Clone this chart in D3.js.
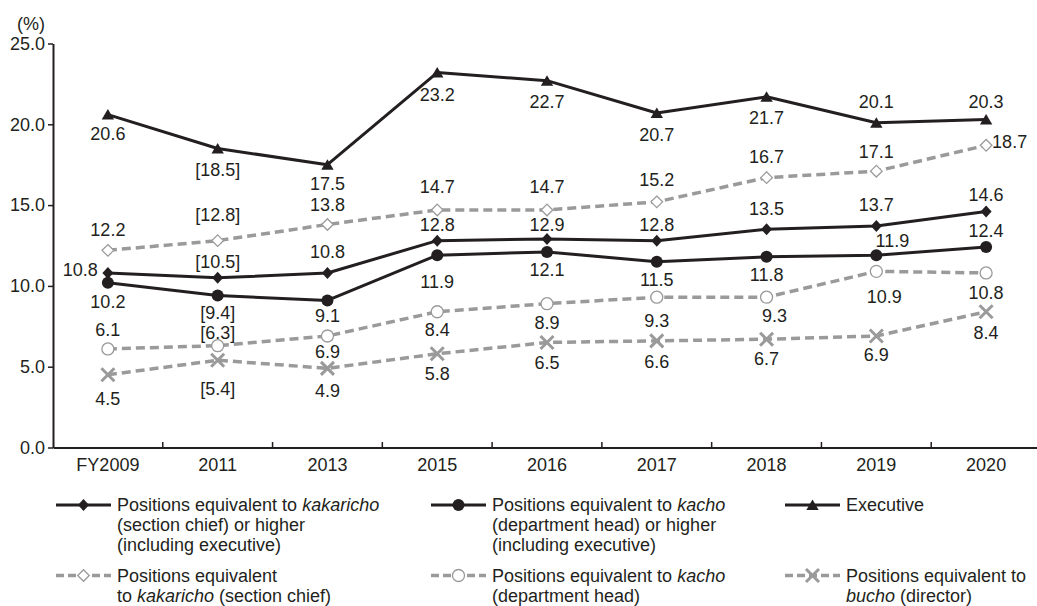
<!DOCTYPE html>
<html>
<head>
<meta charset="utf-8">
<script src="https://cdn.jsdelivr.net/npm/d3@7"></script>
<style>
  html, body { margin: 0; padding: 0; background: #fff; }
  svg { display: block; font-family: "Liberation Sans", Arial, Helvetica, sans-serif; }
</style>
</head>
<body>
<svg id="chart" width="1037" height="606"></svg>
<script>
// Survey years and the share of women (%) in each position band
const categories = ["FY2009", "2011", "2013", "2015", "2016", "2017", "2018", "2019", "2020"];
const bracketedYears = ["2011"]; // figures for this year are printed in brackets

const kakarichoOrHigher = [10.8, 10.5, 10.8, 12.8, 12.9, 12.8, 13.5, 13.7, 14.6];
const kachoOrHigher     = [10.2, 9.4, 9.1, 11.9, 12.1, 11.5, 11.8, 11.9, 12.4];
const executive         = [20.6, 18.5, 17.5, 23.2, 22.7, 20.7, 21.7, 20.1, 20.3];
const kakaricho         = [12.2, 12.8, 13.8, 14.7, 14.7, 15.2, 16.7, 17.1, 18.7];
const kacho             = [6.1, 6.3, 6.9, 8.4, 8.9, 9.3, 9.3, 10.9, 10.8];
const bucho             = [4.5, 5.4, 4.9, 5.8, 6.5, 6.6, 6.7, 6.9, 8.4];

const yTicks = [0, 5, 10, 15, 20, 25];
const yUnit = "(%)";

// Legend wording; *text* is set in italics
const legendLabels = {
  kakarichoOrHigher: ["Positions equivalent to *kakaricho*", "(section chief) or higher", "(including executive)"],
  kachoOrHigher: ["Positions equivalent to *kacho*", "(department head) or higher", "(including executive)"],
  executive: ["Executive"],
  kakaricho: ["Positions equivalent", "to *kakaricho* (section chief)"],
  kacho: ["Positions equivalent to *kacho*", "(department head)"],
  bucho: ["Positions equivalent to", "*bucho* (director)"]
};

// ---- layout -------------------------------------------------------------
const INK = "#231f20";
const GREY = "#9a9a9a";
const FONT_SIZE = 18;

const svg = d3.select("#chart");
svg.append("rect").attr("width", 1037).attr("height", 606).attr("fill", "#fff");

const x = d3.scaleBand().domain(categories).range([53, 1041]).paddingInner(0).paddingOuter(0);
const y = d3.scaleLinear().domain([0, 25]).range([447.5, 43.5]);
const cx = c => x(c) + x.bandwidth() / 2;

// Label offsets (dx, dy of the label centre from its point) and anchors, per series
const labelLayout = {
  kakarichoOrHigher: [[-10, -3, "end"], [0, -16], [0, -21], [0, -16], [0, -14], [0, -16], [0, -21], [0, -22], [0, -17]],
  kachoOrHigher:     [[0, 19], [0, 17], [0, 15], [0, 26], [0, 18], [0, 18], [0, 18], [16, -15], [0, -17]],
  executive:         [[0, 19], [0, 21], [0, 19], [0, 22], [0, 21], [0, 22], [0, 21], [0, -21], [0, -18]],
  kakaricho:         [[0, -21], [0, -26], [0, -20], [0, -23], [0, -23], [0, -22], [0, -21], [0, -20], [6, -4, "start"]],
  kacho:             [[0, -19], [0, -13], [0, 16], [0, 18], [0, 19], [0, 23], [8, 18], [8, 25], [0, 20]],
  bucho:             [[0, 24], [0, 28], [0, 22], [0, 20], [0, 20], [0, 21], [0, 19], [0, 19], [0, 21]]
};

// Marker drawing helpers
const markers = {
  diamondFilled: g => g.append("path").attr("d", "M0,-6L5.5,0L0,6L-5.5,0Z").attr("fill", INK),
  circleFilled: g => g.append("circle").attr("r", 6).attr("fill", INK),
  triangle: g => g.append("path").attr("d", "M0,-5.5L6.2,5L-6.2,5Z").attr("fill", INK),
  diamondOpen: g => g.append("path").attr("d", "M0,-5.8L5.8,0L0,5.8L-5.8,0Z")
      .attr("fill", "#fff").attr("stroke", GREY).attr("stroke-width", 1.3),
  circleOpen: g => g.append("circle").attr("r", 6).attr("fill", "#fff")
      .attr("stroke", GREY).attr("stroke-width", 1.3),
  cross: g => g.append("path").attr("d", "M-6.5,-6.5L6.5,6.5M-6.5,6.5L6.5,-6.5")
      .attr("fill", "none").attr("stroke", GREY).attr("stroke-width", 3)
};

const series = [
  { key: "kakaricho", values: kakaricho, color: GREY, dashed: true, marker: "diamondOpen" },
  { key: "kacho", values: kacho, color: GREY, dashed: true, marker: "circleOpen" },
  { key: "bucho", values: bucho, color: GREY, dashed: true, marker: "cross" },
  { key: "kakarichoOrHigher", values: kakarichoOrHigher, color: INK, dashed: false, marker: "diamondFilled" },
  { key: "kachoOrHigher", values: kachoOrHigher, color: INK, dashed: false, marker: "circleFilled" },
  { key: "executive", values: executive, color: INK, dashed: false, marker: "triangle" }
];

// ---- axes ---------------------------------------------------------------
const yAxis = d3.axisLeft(y).tickValues(yTicks).tickFormat(d3.format(".1f"))
  .tickSize(5).tickSizeOuter(0).tickPadding(3);
const gy = svg.append("g").attr("transform", "translate(53,0)").call(yAxis);
gy.select(".domain").attr("stroke", INK).attr("stroke-width", 2);
gy.selectAll(".tick line").attr("stroke", INK).attr("stroke-width", 1.5);
gy.selectAll(".tick text").attr("fill", INK).style("font-size", FONT_SIZE + "px")
  .style("font-family", "'Liberation Sans', Arial, sans-serif");

svg.append("text").attr("x", 31).attr("y", 29.5).attr("text-anchor", "middle")
  .attr("fill", INK).style("font-size", FONT_SIZE + "px").text(yUnit);

const xAxis = d3.axisBottom(x).tickSize(0).tickPadding(11).tickSizeOuter(0);
const gx = svg.append("g").attr("transform", `translate(0,${y(0)})`).call(xAxis);
gx.select(".domain").attr("stroke", INK).attr("stroke-width", 2);
gx.selectAll(".tick text").attr("fill", INK).style("font-size", FONT_SIZE + "px")
  .style("font-family", "'Liberation Sans', Arial, sans-serif");

// inward tick marks on the category boundaries
svg.append("g").selectAll("line")
  .data(categories.slice(1))
  .join("line")
  .attr("x1", d => x(d)).attr("x2", d => x(d))
  .attr("y1", y(0)).attr("y2", y(0) - 5.5)
  .attr("stroke", INK).attr("stroke-width", 1.5);

// ---- lines and markers --------------------------------------------------
const line = d3.line().x(d => cx(d.cat)).y(d => y(d.v));

series.forEach(s => {
  const pts = s.values.map((v, i) => ({ cat: categories[i], v }));
  svg.append("path").datum(pts)
    .attr("d", line)
    .attr("fill", "none")
    .attr("stroke", s.color)
    .attr("stroke-width", s.dashed ? 3.5 : 3)
    .attr("stroke-dasharray", s.dashed ? "9,5" : null)
    .attr("stroke-linejoin", "round");
  pts.forEach(p => {
    const g = svg.append("g").attr("transform", `translate(${cx(p.cat)},${y(p.v)})`);
    markers[s.marker](g);
  });
});

// ---- value labels -------------------------------------------------------
const fmt = d3.format(".1f");
series.forEach(s => {
  s.values.forEach((v, i) => {
    const cat = categories[i];
    const [dx, dy, anchor] = labelLayout[s.key][i];
    const txt = bracketedYears.includes(cat) ? `[${fmt(v)}]` : fmt(v);
    svg.append("text")
      .attr("x", cx(cat) + dx)
      .attr("y", y(v) + dy + 6.4)
      .attr("text-anchor", anchor || "middle")
      .attr("fill", INK)
      .style("font-size", FONT_SIZE + "px")
      .text(txt);
  });
});

// ---- legend -------------------------------------------------------------
const legendCols = [56, 431, 785];
const legendRows = [505, 575.5];
const legendLineGap = 20;
const legendOrder = [
  ["kakarichoOrHigher", "kachoOrHigher", "executive"],
  ["kakaricho", "kacho", "bucho"]
];

legendOrder.forEach((row, r) => {
  row.forEach((key, c) => {
    const s = series.find(d => d.key === key);
    const g = svg.append("g").attr("transform", `translate(${legendCols[c]},${legendRows[r]})`);
    g.append("line").attr("x1", 0).attr("x2", 55).attr("y1", 0).attr("y2", 0)
      .attr("stroke", s.color).attr("stroke-width", s.dashed ? 3.5 : 3)
      .attr("stroke-dasharray", s.dashed ? "8,4" : null);
    markers[s.marker](g.append("g").attr("transform", "translate(27.5,0)"));
    const t = g.append("text").attr("x", 61).attr("y", 6.4)
      .attr("fill", INK).style("font-size", FONT_SIZE + "px");
    legendLabels[key].forEach((ln, li) => {
      const parts = ln.split("*");
      parts.forEach((part, pi) => {
        if (!part) return;
        const ts = t.append("tspan").text(part);
        if (pi === 0 || (pi === 1 && parts[0] === "")) {
          ts.attr("x", 61).attr("dy", li === 0 ? 0 : legendLineGap);
        }
        if (pi % 2 === 1) ts.style("font-style", "italic");
      });
    });
  });
});
</script>
</body>
</html>
